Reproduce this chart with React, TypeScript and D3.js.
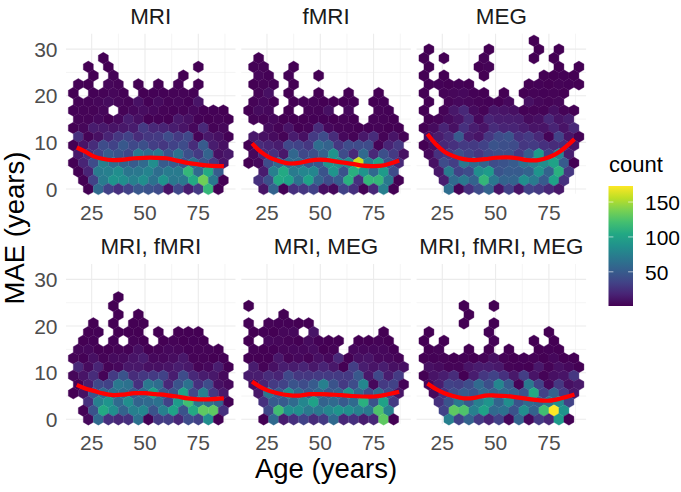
import * as d3 from "d3";

const WIDTH = 681;
const HEIGHT = 492;
const PANEL_W = 169.5;
const PANEL_H = 160;
const PANEL_X = [66, 241.3, 416.6];
const PANEL_Y = [33.7, 264];
const FONT = "'Liberation Sans', Arial, sans-serif";

const X_DOMAIN = [12.95, 92.45];
const Y_DOMAIN = [-1, 33.3];
const X_TICKS = [25, 50, 75];
const X_MINOR = [37.5, 62.5, 87.5];
const Y_TICKS = [0, 10, 20, 30];
const Y_MINOR = [5, 15, 25];
const LEGEND_TICKS = [50, 100, 150];
const COUNT_DOMAIN = [1, 173];

// hex grid in data units
const COL_STEP = 4.69;
const ROW_STEP = 1.87;
const EVEN_ROW_AGE = 18.73;
const ODD_ROW_AGE = 16.39;

const titles = ["MRI", "fMRI", "MEG", "MRI, fMRI", "MRI, MEG", "MRI, fMRI, MEG"];

// counts per hex cell, top row first, 16 columns, 0 = empty cell
const mriCounts = [
  [0, 0, 0, 1, 0, 0, 0, 0, 0, 0, 0, 0, 0, 0, 0, 0],
  [0, 1, 0, 1, 0, 0, 0, 0, 0, 0, 0, 0, 1, 0, 0, 0],
  [0, 0, 1, 0, 3, 0, 0, 0, 0, 0, 0, 1, 0, 0, 0, 0],
  [2, 1, 0, 4, 3, 0, 1, 0, 1, 0, 2, 0, 1, 0, 0, 0],
  [1, 0, 2, 3, 4, 2, 0, 1, 2, 2, 3, 3, 2, 0, 0, 0],
  [3, 3, 4, 6, 4, 3, 9, 2, 6, 3, 4, 2, 10, 0, 0, 0],
  [2, 3, 3, 4, 0, 3, 5, 7, 5, 3, 2, 3, 5, 2, 2, 1],
  [3, 3, 5, 1, 5, 15, 8, 1, 2, 1, 12, 8, 2, 1, 3, 1],
  [1, 4, 14, 13, 10, 12, 14, 30, 20, 18, 14, 10, 5, 20, 3, 4],
  [25, 3, 8, 18, 28, 35, 22, 28, 30, 40, 30, 38, 3, 12, 8, 2],
  [1, 10, 22, 40, 35, 48, 38, 42, 32, 28, 35, 40, 22, 50, 14, 8],
  [12, 25, 35, 50, 45, 38, 70, 62, 70, 45, 65, 42, 30, 55, 8, 12],
  [1, 18, 40, 75, 62, 55, 50, 60, 85, 50, 50, 45, 65, 45, 28, 10],
  [1, 18, 72, 75, 85, 68, 70, 78, 62, 72, 72, 115, 60, 105, 50, 0],
  [0, 1, 35, 72, 90, 85, 75, 85, 65, 90, 70, 70, 105, 135, 70, 1],
  [0, 1, 60, 35, 25, 35, 48, 45, 40, 10, 38, 15, 30, 115, 1, 0],
];

const fmriCounts = [
  [0, 1, 0, 0, 0, 0, 0, 0, 0, 0, 0, 0, 0, 0, 0, 0],
  [2, 3, 0, 0, 1, 0, 0, 0, 0, 0, 0, 0, 0, 0, 0, 0],
  [0, 4, 2, 0, 2, 0, 0, 1, 0, 0, 0, 0, 0, 0, 0, 0],
  [1, 3, 2, 0, 1, 0, 0, 0, 0, 0, 0, 0, 0, 0, 0, 0],
  [0, 3, 8, 0, 1, 0, 0, 1, 0, 0, 1, 0, 0, 1, 0, 0],
  [3, 5, 1, 0, 1, 3, 3, 1, 1, 1, 1, 0, 1, 2, 0, 0],
  [1, 6, 5, 0, 1, 0, 3, 3, 8, 0, 5, 0, 0, 3, 2, 0],
  [3, 3, 5, 1, 1, 1, 2, 2, 1, 3, 1, 0, 3, 3, 1, 0],
  [0, 0, 6, 3, 10, 1, 3, 22, 5, 3, 3, 1, 2, 3, 1, 1],
  [12, 8, 6, 3, 14, 8, 30, 40, 22, 5, 3, 12, 22, 3, 10, 3],
  [1, 22, 18, 14, 38, 35, 28, 62, 55, 28, 40, 40, 40, 3, 18, 28],
  [5, 22, 25, 12, 58, 38, 42, 55, 90, 40, 20, 60, 20, 42, 30, 8],
  [1, 5, 40, 60, 62, 62, 45, 48, 90, 85, 85, 160, 75, 100, 45, 20],
  [0, 14, 75, 105, 72, 80, 80, 45, 90, 45, 110, 90, 60, 95, 40, 0],
  [0, 25, 42, 105, 100, 65, 100, 55, 40, 50, 110, 25, 115, 115, 70, 1],
  [0, 10, 55, 2, 25, 28, 35, 8, 5, 35, 25, 3, 20, 75, 1, 0],
];

const megCounts = [
  [0, 0, 0, 0, 0, 0, 0, 0, 0, 0, 0, 1, 0, 0, 0, 0],
  [1, 0, 0, 0, 0, 0, 1, 0, 0, 0, 0, 1, 0, 1, 0, 0],
  [1, 0, 1, 0, 0, 0, 3, 0, 0, 0, 0, 1, 0, 1, 0, 0],
  [1, 0, 0, 0, 0, 1, 3, 0, 0, 0, 0, 0, 0, 1, 0, 1],
  [1, 0, 1, 0, 0, 0, 1, 0, 0, 0, 0, 0, 1, 1, 2, 1],
  [1, 2, 1, 2, 1, 0, 0, 0, 0, 0, 1, 2, 1, 3, 2, 1],
  [1, 0, 3, 4, 5, 2, 1, 0, 1, 0, 1, 3, 2, 3, 1, 0],
  [1, 0, 3, 5, 4, 3, 2, 1, 5, 0, 8, 4, 3, 4, 0, 0],
  [1, 0, 3, 12, 20, 6, 3, 12, 10, 8, 2, 3, 3, 8, 3, 1],
  [1, 3, 6, 10, 22, 5, 18, 15, 15, 14, 6, 8, 20, 10, 15, 0],
  [1, 6, 18, 8, 25, 15, 10, 22, 18, 18, 15, 10, 10, 18, 10, 20],
  [8, 14, 22, 50, 15, 10, 28, 40, 45, 25, 30, 20, 3, 35, 10, 2],
  [1, 8, 20, 25, 30, 30, 35, 45, 42, 40, 28, 30, 25, 22, 22, 10],
  [5, 25, 30, 42, 35, 28, 38, 42, 42, 30, 50, 95, 32, 80, 15, 0],
  [0, 8, 40, 32, 70, 60, 55, 40, 45, 50, 65, 75, 85, 100, 50, 1],
  [0, 12, 72, 35, 40, 85, 95, 45, 50, 50, 55, 90, 55, 110, 28, 0],
  [0, 0, 15, 60, 70, 55, 115, 70, 55, 55, 85, 72, 50, 100, 25, 0],
  [0, 0, 62, 3, 25, 40, 55, 10, 35, 10, 35, 30, 20, 12, 0, 0],
];

const mriFmriCounts = [
  [0, 0, 0, 0, 1, 0, 0, 0, 0, 0, 0, 0, 0, 0, 0, 0],
  [0, 0, 0, 0, 1, 0, 0, 0, 0, 0, 0, 0, 0, 0, 0, 0],
  [0, 0, 0, 0, 1, 0, 1, 0, 0, 0, 0, 0, 0, 0, 0, 0],
  [0, 0, 1, 0, 1, 0, 1, 1, 0, 0, 0, 0, 0, 0, 0, 0],
  [0, 1, 2, 0, 1, 1, 1, 0, 1, 0, 1, 1, 1, 0, 0, 0],
  [0, 1, 2, 0, 2, 0, 3, 1, 0, 1, 3, 1, 2, 1, 0, 0],
  [4, 5, 1, 1, 3, 2, 8, 1, 3, 5, 4, 2, 3, 3, 1, 0],
  [3, 2, 8, 3, 6, 6, 10, 14, 5, 5, 7, 12, 3, 3, 1, 2],
  [20, 6, 18, 3, 5, 12, 12, 8, 8, 10, 15, 12, 3, 5, 15, 1],
  [4, 10, 22, 3, 30, 45, 22, 28, 30, 35, 15, 40, 20, 14, 12, 5],
  [1, 15, 38, 35, 70, 65, 25, 70, 62, 20, 45, 65, 25, 40, 8, 5],
  [1, 8, 45, 60, 65, 62, 50, 62, 100, 50, 45, 100, 38, 75, 28, 12],
  [0, 25, 75, 90, 60, 85, 55, 60, 65, 35, 95, 120, 70, 65, 55, 1],
  [0, 2, 45, 105, 85, 55, 75, 80, 45, 75, 100, 45, 105, 130, 130, 25],
  [0, 5, 60, 25, 20, 25, 65, 2, 30, 32, 20, 40, 35, 85, 1, 0],
];

const mriMegCounts = [
  [1, 0, 0, 0, 0, 0, 0, 0, 0, 0, 0, 0, 0, 0, 0, 0],
  [0, 0, 0, 1, 0, 0, 0, 0, 0, 0, 0, 0, 0, 0, 0, 0],
  [3, 0, 3, 2, 2, 1, 1, 0, 0, 0, 0, 0, 0, 0, 0, 0],
  [1, 2, 1, 4, 5, 0, 10, 0, 0, 0, 0, 0, 0, 1, 0, 0],
  [1, 0, 5, 4, 3, 1, 6, 2, 1, 1, 0, 1, 1, 3, 1, 0],
  [3, 1, 2, 4, 5, 5, 7, 1, 3, 0, 5, 5, 5, 5, 2, 0],
  [1, 1, 1, 12, 3, 5, 3, 8, 5, 20, 1, 8, 10, 5, 5, 3],
  [14, 3, 8, 15, 14, 18, 12, 18, 12, 1, 32, 15, 10, 15, 8, 8],
  [14, 15, 22, 18, 38, 28, 28, 30, 30, 30, 30, 48, 12, 38, 15, 30],
  [8, 18, 30, 35, 45, 40, 50, 75, 45, 30, 40, 80, 5, 30, 35, 2],
  [0, 12, 70, 50, 85, 60, 50, 60, 50, 55, 90, 60, 40, 60, 40, 10],
  [0, 25, 50, 50, 60, 80, 100, 55, 60, 50, 60, 110, 45, 100, 30, 0],
  [0, 0, 38, 120, 85, 85, 70, 70, 80, 90, 85, 75, 70, 125, 75, 0],
  [0, 1, 60, 15, 25, 35, 22, 30, 60, 20, 25, 15, 20, 130, 1, 0],
];

const allCounts = [
  [0, 0, 0, 0, 1, 0, 0, 1, 0, 0, 0, 0, 0, 0, 0, 0],
  [0, 0, 0, 0, 1, 0, 0, 0, 0, 0, 0, 0, 0, 0, 0, 0],
  [0, 0, 0, 0, 1, 0, 0, 1, 0, 0, 0, 0, 0, 0, 0, 0],
  [1, 0, 0, 0, 0, 0, 2, 0, 0, 0, 0, 0, 1, 0, 0, 0],
  [1, 0, 1, 0, 0, 0, 0, 2, 0, 0, 0, 1, 0, 1, 0, 0],
  [1, 3, 0, 0, 1, 0, 1, 0, 1, 0, 0, 1, 2, 1, 0, 0],
  [1, 2, 3, 1, 2, 1, 3, 8, 3, 1, 2, 3, 1, 5, 1, 1],
  [8, 6, 3, 3, 10, 14, 15, 12, 3, 2, 1, 12, 3, 8, 5, 1],
  [1, 10, 15, 22, 1, 15, 28, 35, 25, 12, 32, 10, 3, 8, 10, 28],
  [5, 15, 35, 32, 40, 60, 42, 80, 50, 3, 70, 35, 5, 28, 8, 12],
  [0, 5, 25, 40, 50, 45, 60, 55, 60, 55, 45, 105, 35, 55, 30, 12],
  [0, 25, 45, 70, 50, 75, 90, 55, 85, 45, 60, 55, 70, 85, 35, 0],
  [0, 0, 35, 130, 125, 75, 100, 60, 65, 45, 85, 55, 120, 173, 90, 0],
  [0, 0, 75, 35, 55, 30, 18, 35, 5, 55, 5, 30, 20, 95, 1, 0],
];

const panelCounts = [mriCounts, fmriCounts, megCounts, mriFmriCounts, mriMegCounts, allCounts];

// loess fits read at these ages
const smoothAges = [18, 22, 26, 30, 35, 40, 45, 50, 55, 60, 65, 70, 75, 80, 87];
const mriSmooth = [8.9, 8.0, 7.0, 6.5, 6.2, 6.3, 6.6, 6.7, 6.7, 6.6, 6.1, 5.6, 5.3, 5.0, 4.9];
const fmriSmooth = [9.8, 8.0, 6.8, 6.1, 5.5, 5.6, 6.1, 6.3, 6.1, 5.7, 5.4, 5.0, 4.9, 5.1, 6.1];
const megSmooth = [11.8, 9.6, 8.0, 7.1, 6.4, 6.2, 6.4, 6.7, 6.8, 6.6, 6.2, 6.2, 6.8, 8.0, 10.7];
const mriFmriSmooth = [7.4, 6.6, 6.1, 5.6, 5.2, 5.3, 5.6, 5.6, 5.4, 5.2, 4.9, 4.5, 4.3, 4.3, 4.5];
const mriMegSmooth = [8.1, 6.9, 6.1, 5.6, 5.2, 5.1, 5.4, 5.4, 5.3, 5.2, 5.0, 4.9, 4.9, 5.2, 5.9];
const allSmooth = [7.7, 6.5, 5.6, 5.0, 4.5, 4.6, 5.1, 5.1, 5.0, 4.7, 4.4, 4.1, 4.0, 4.4, 5.3];
const panelSmooth = [mriSmooth, fmriSmooth, megSmooth, mriFmriSmooth, mriMegSmooth, allSmooth];

const xScale = d3.scaleLinear().domain(X_DOMAIN).range([0, PANEL_W]);
const yScale = d3.scaleLinear().domain(Y_DOMAIN).range([PANEL_H, 0]);
const colorScale = d3.scaleSequential(d3.interpolateViridis).domain(COUNT_DOMAIN);
const legendScale = d3.scaleLinear().domain(COUNT_DOMAIN).range([306, 186]);

function hexPath(age: number, mae: number) {
  const hw = COL_STEP / 2;
  const r = (ROW_STEP * 2) / 3;
  const pts: [number, number][] = [
    [age, mae + r],
    [age + hw, mae + r / 2],
    [age + hw, mae - r / 2],
    [age, mae - r],
    [age - hw, mae - r / 2],
    [age - hw, mae + r / 2],
  ];
  return "M" + pts.map(([a, m]) => `${xScale(a)},${yScale(m)}`).join("L") + "Z";
}

function Panel({ index }: { index: number }) {
  const rows = panelCounts[index];
  const col = index % 3;
  const tx = PANEL_X[col];
  const ty = PANEL_Y[Math.floor(index / 3)];
  const line = d3
    .line<number>()
    .x((_, i) => xScale(smoothAges[i]))
    .y((d) => yScale(d))
    .curve(d3.curveCatmullRom);

  return (
    <g transform={`translate(${tx},${ty})`}>
      {/* grid */}
      {X_MINOR.map((t) => (
        <line key={t} x1={xScale(t)} x2={xScale(t)} y1={0} y2={PANEL_H} stroke="#EBEBEB" strokeWidth={0.55} />
      ))}
      {Y_MINOR.map((t) => (
        <line key={t} x1={0} x2={PANEL_W} y1={yScale(t)} y2={yScale(t)} stroke="#EBEBEB" strokeWidth={0.55} />
      ))}
      {X_TICKS.map((t) => (
        <line key={t} x1={xScale(t)} x2={xScale(t)} y1={0} y2={PANEL_H} stroke="#EBEBEB" strokeWidth={1.07} />
      ))}
      {Y_TICKS.map((t) => (
        <line key={t} x1={0} x2={PANEL_W} y1={yScale(t)} y2={yScale(t)} stroke="#EBEBEB" strokeWidth={1.07} />
      ))}

      {/* hexes */}
      {rows.map((row, r) => {
        const k = rows.length - 1 - r;
        const start = k % 2 === 0 ? EVEN_ROW_AGE : ODD_ROW_AGE;
        return row.map((v, c) =>
          v > 0 ? (
            <path
              key={`${r}-${c}`}
              d={hexPath(start + c * COL_STEP, k * ROW_STEP)}
              fill={colorScale(v)}
              stroke={colorScale(v)}
              strokeWidth={0.35}
            />
          ) : null
        );
      })}

      {/* smooth */}
      <path d={line(panelSmooth[index]) ?? ""} fill="none" stroke="#FF0000" strokeWidth={4.2} />

      <text x={PANEL_W / 2} y={-9.7} textAnchor="middle" fontSize={22.4} fill="#1a1a1a">
        {titles[index]}
      </text>

      {X_TICKS.map((t) => (
        <text key={t} x={xScale(t)} y={PANEL_H + 26} textAnchor="middle" fontSize={21} fill="#4D4D4D">
          {t}
        </text>
      ))}
      {col === 0 &&
        Y_TICKS.map((t) => (
          <text key={t} x={-8.5} y={yScale(t) + 7.5} textAnchor="end" fontSize={21} fill="#4D4D4D">
            {t}
          </text>
        ))}
    </g>
  );
}

export default function App() {
  const stops = d3.range(0, 1.01, 0.1);
  return (
    <svg
      width={WIDTH}
      height={HEIGHT}
      style={{ position: "absolute", left: 0, top: 0, background: "#fff" }}
      fontFamily={FONT}
    >
      <defs>
        <linearGradient id="countBar" x1="0" x2="0" y1="1" y2="0">
          {stops.map((s) => (
            <stop key={s} offset={s} stopColor={d3.interpolateViridis(s)} />
          ))}
        </linearGradient>
      </defs>

      {titles.map((_, i) => (
        <Panel key={i} index={i} />
      ))}

      <text x={326} y={478} textAnchor="middle" fontSize={27.5} fill="#000">
        Age (years)
      </text>
      <text
        transform="translate(24,228) rotate(-90)"
        textAnchor="middle"
        fontSize={27.5}
        fill="#000"
      >
        MAE (years)
      </text>

      {/* legend */}
      <text x={609} y={172.3} fontSize={22} fill="#000">
        count
      </text>
      <rect x={608.5} y={186} width={24.5} height={120} fill="url(#countBar)" />
      {LEGEND_TICKS.map((t) => (
        <g key={t}>
          <line x1={608.5} x2={613.4} y1={legendScale(t)} y2={legendScale(t)} stroke="#fff" strokeWidth={0.6} />
          <line x1={628.1} x2={633} y1={legendScale(t)} y2={legendScale(t)} stroke="#fff" strokeWidth={0.6} />
          <text x={645} y={legendScale(t) + 8} fontSize={21} fill="#000">
            {t}
          </text>
        </g>
      ))}
    </svg>
  );
}
